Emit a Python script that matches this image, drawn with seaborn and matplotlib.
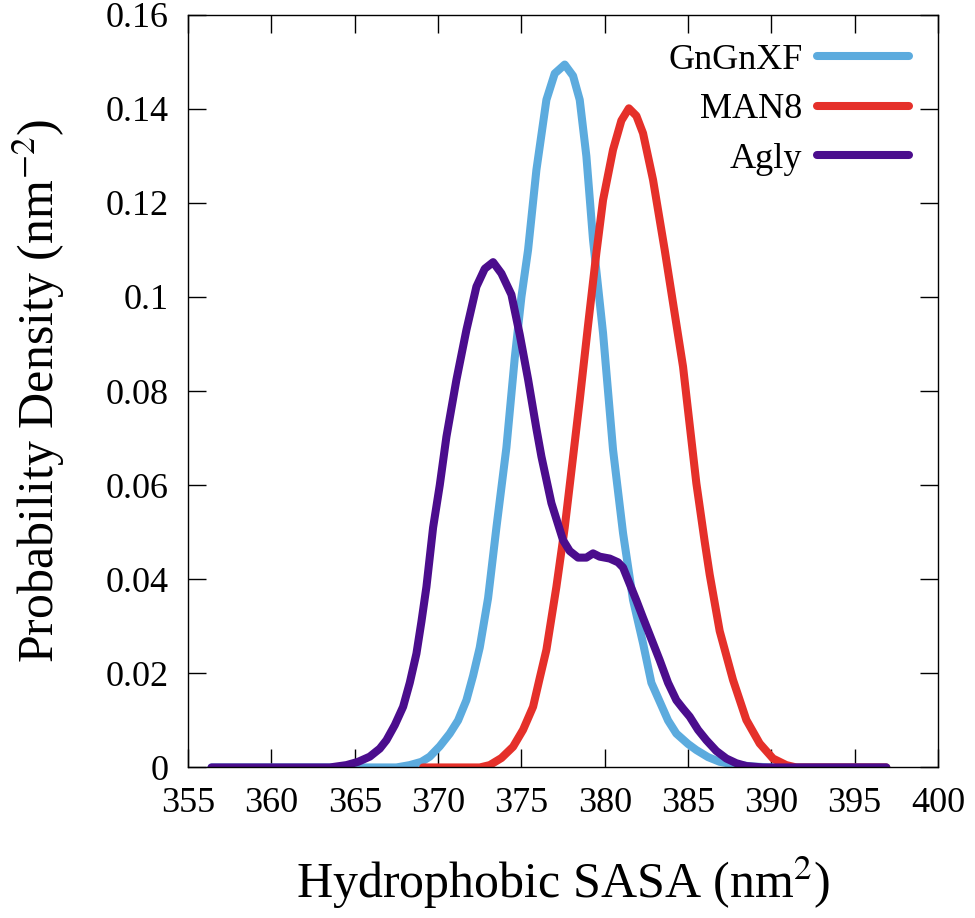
import pandas as pd
import matplotlib
matplotlib.use("Agg")
import matplotlib.pyplot as plt
import seaborn as sns

# --- data ---
series_names = ["GnGnXF", "MAN8", "Agly"]

gngnxf_x = [356.4, 362.0, 367.5, 368.3, 369.0, 369.5, 370.1, 370.7, 371.2, 371.7, 372.1,
            372.5, 373.0, 373.5, 374.1, 374.6, 375.0, 375.4, 375.9, 376.5, 377.0, 377.6,
            378.1, 378.5, 378.9, 379.3, 379.9, 380.5, 381.1, 381.7, 382.3, 382.8, 383.3,
            383.8, 384.3, 385.0, 385.5, 386.2, 386.9, 387.8, 388.9, 390.0, 396.9]
gngnxf_y = [0.0, 0.0, 0.0, 0.0005, 0.0012, 0.0023, 0.0045, 0.0072, 0.0100, 0.0143, 0.0195,
            0.0255, 0.036, 0.051, 0.068, 0.087, 0.100, 0.110, 0.127, 0.1419, 0.1475, 0.1494,
            0.147, 0.1419, 0.1299, 0.1121, 0.0923, 0.0675, 0.0498, 0.0356, 0.0264, 0.0180, 0.0140,
            0.0100, 0.0072, 0.0050, 0.0037, 0.0022, 0.0012, 0.0006, 0.0002, 0.0, 0.0]

man8_x = [369.1, 372.5, 373.1, 373.8, 374.5, 375.1, 375.7, 376.1, 376.5, 377.1, 377.6,
          378.1, 378.5, 379.0, 379.5, 379.9, 380.5, 381.0, 381.45, 381.9, 382.3, 382.9,
          383.6, 384.7, 385.5, 386.0, 386.3, 386.9, 387.7, 388.5, 389.3, 390.1, 390.9,
          391.5, 396.9]
man8_y = [0.0, 0.0, 0.0005, 0.0020, 0.0044, 0.0080, 0.0129, 0.019, 0.0250, 0.0384, 0.051,
          0.066, 0.0781, 0.094, 0.1094, 0.1206, 0.1313, 0.1375, 0.1401, 0.1385, 0.1348, 0.1249,
          0.110, 0.0852, 0.0604, 0.048, 0.041, 0.0290, 0.0186, 0.0101, 0.0051, 0.0019, 0.0005,
          0.0, 0.0]

agly_x = [356.4, 363.5, 364.5, 365.2, 365.9, 366.5, 366.9, 367.4, 367.9, 368.3, 368.7,
          369.0, 369.3, 369.7, 370.1, 370.5, 371.1, 371.7, 372.3, 372.8, 373.3, 373.8,
          374.4, 374.9, 375.4, 375.9, 376.2, 376.8, 377.5, 377.9, 378.4, 378.9, 379.3,
          379.7, 380.3, 380.8, 381.1, 381.5, 381.9, 382.3, 382.9, 383.3, 383.8, 384.3,
          384.7, 385.1, 385.6, 386.1, 386.7, 387.3, 387.9, 388.5, 389.5, 396.9]
agly_y = [0.0, 0.0, 0.0005, 0.0012, 0.0023, 0.0040, 0.0058, 0.0090, 0.0129, 0.0180, 0.0242,
          0.031, 0.0384, 0.051, 0.060, 0.0703, 0.0824, 0.0930, 0.1022, 0.1060, 0.1074, 0.1050,
          0.1005, 0.092, 0.0825, 0.0720, 0.0661, 0.0562, 0.0483, 0.0460, 0.0446, 0.0446, 0.0455,
          0.0448, 0.0444, 0.0436, 0.0425, 0.0390, 0.0355, 0.0318, 0.0264, 0.0228, 0.018, 0.0143,
          0.0125, 0.0108, 0.0080, 0.0058, 0.0035, 0.0019, 0.0009, 0.0003, 0.0, 0.0]

x_ticks = [355, 360, 365, 370, 375, 380, 385, 390, 395, 400]
y_ticks = [0, 0.02, 0.04, 0.06, 0.08, 0.1, 0.12, 0.14, 0.16]
y_tick_labels = ["0", "0.02", "0.04", "0.06", "0.08", "0.1", "0.12", "0.14", "0.16"]

colors = {"GnGnXF": "#5cabde", "MAN8": "#e5302a", "Agly": "#4b0d8d"}


def main():
    sns.set_style("ticks")
    plt.rcParams["font.family"] = ["Liberation Serif", "DejaVu Serif"]
    plt.rcParams["mathtext.fontset"] = "stix"
    for key in ["text.color", "axes.labelcolor", "xtick.color", "ytick.color"]:
        plt.rcParams[key] = "black"

    df = pd.concat([
        pd.DataFrame({"x": gngnxf_x, "y": gngnxf_y, "series": "GnGnXF"}),
        pd.DataFrame({"x": man8_x, "y": man8_y, "series": "MAN8"}),
        pd.DataFrame({"x": agly_x, "y": agly_y, "series": "Agly"}),
    ], ignore_index=True)

    fig = plt.figure(figsize=(9.75, 9.18), dpi=100)
    ax = fig.add_axes([0.193, 0.164, 0.769, 0.820])

    for name in series_names:
        sub = df[df["series"] == name]
        sns.lineplot(data=sub, x="x", y="y", ax=ax, color=colors[name], lw=5.8,
                     label=name, sort=False, estimator=None)

    ax.set_xlim(355, 400)
    ax.set_ylim(0, 0.16)
    ax.set_xticks(x_ticks)
    ax.set_yticks(y_ticks)
    ax.set_yticklabels(y_tick_labels)
    ax.tick_params(direction="in", length=13, width=1.0, labelsize=26,
                   top=True, right=True, pad=14)
    for s in ax.spines.values():
        s.set_linewidth(1.0)
        s.set_color("black")

    ax.set_xlabel("Hydrophobic SASA (nm$^2$)", fontsize=36, labelpad=25)
    ax.set_ylabel("Probability Density (nm$^{-2}$)", fontsize=36, labelpad=28)

    leg = ax.legend(loc="upper right", frameon=False, markerfirst=False, fontsize=26,
                    handlelength=2.55, handletextpad=0.4, labelspacing=0.45,
                    borderaxespad=0.4)
    for t in leg.get_texts():
        t.set_ha("right")

    fig.savefig("out.png", dpi=100)
    plt.close(fig)


if __name__ == "__main__":
    main()
